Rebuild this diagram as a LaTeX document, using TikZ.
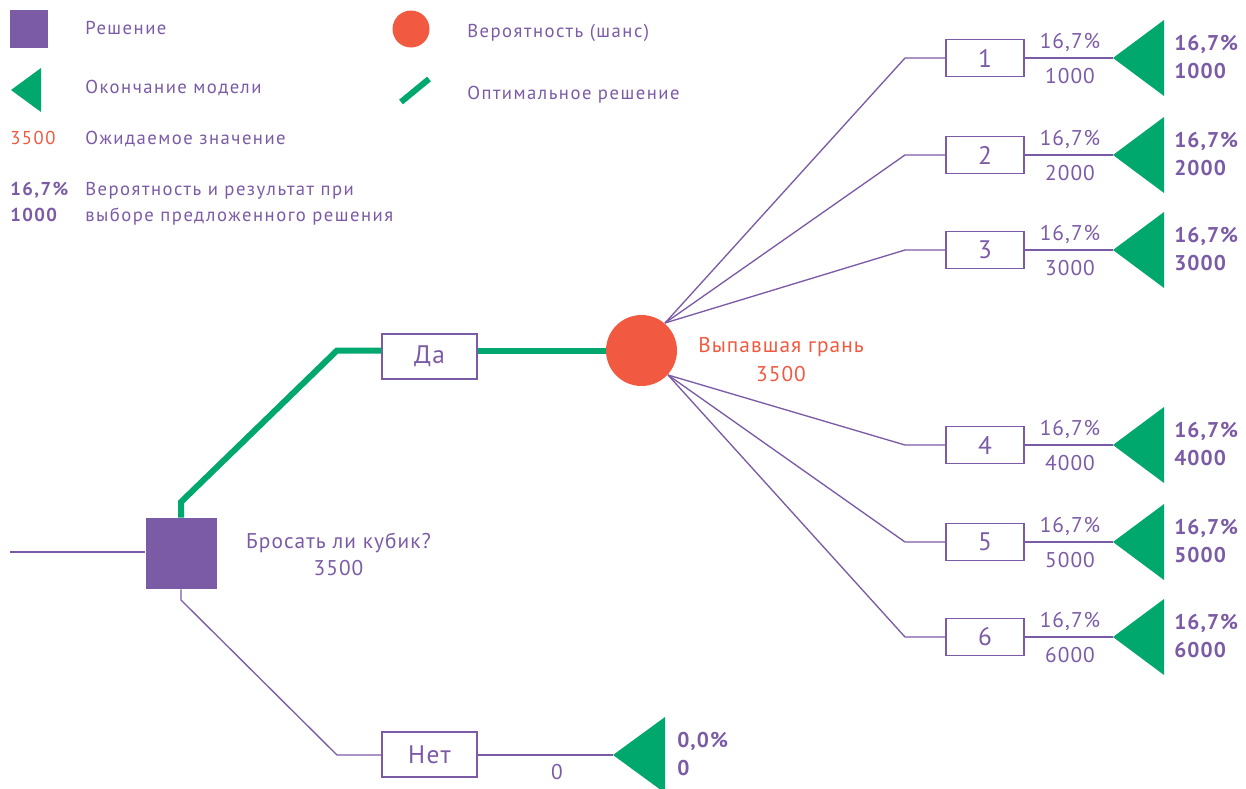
\documentclass[tikz,border=0pt]{standalone}
\usepackage{fontspec}
\setmainfont{PT Sans}
\definecolor{purp}{HTML}{7B5BA6}
\definecolor{grn}{HTML}{00A86E}
\definecolor{org}{HTML}{F15A40}
\begin{document}
\begin{tikzpicture}[x=0.75pt,y=-0.75pt,
  wire/.style={draw=purp,line width=1pt},
  optline/.style={draw=grn,line width=4.5pt},
  legtxt/.style={anchor=base west,inner sep=0pt,text=purp,font=\fontsize{14}{16}\selectfont\addfontfeature{LetterSpace=8}},
  legbold/.style={legtxt,font=\fontsize{14}{16}\selectfont\bfseries\addfontfeature{LetterSpace=8}},
  lbl/.style={anchor=base,inner sep=0pt,text=purp,font=\fontsize{16}{18}\selectfont\addfontfeature{LetterSpace=5}},
  blbl/.style={anchor=base west,inner sep=0pt,text=purp,font=\fontsize{16}{18}\selectfont\bfseries\addfontfeature{LetterSpace=5}},
  bigbox/.style={draw=purp,line width=1.1pt,fill=white,minimum width=71.25pt,minimum height=33.75pt,inner sep=0pt,text=purp,font=\fontsize{19}{21}\selectfont\addfontfeature{LetterSpace=5}},
  outbox/.style={draw=purp,line width=1.1pt,fill=white,minimum width=58.5pt,minimum height=27.75pt,inner sep=0pt,text=purp,font=\fontsize{19}{21}\selectfont},
  decsq/.style={fill=purp,inner sep=0pt},
  chancec/.style={circle,fill=org,inner sep=0pt},
  endtri/.style={fill=grn}
]
\useasboundingbox (0,0) rectangle (1246,789);

% ---------- legend ----------
\node[decsq,minimum size=28.5pt] (lsq) at (29,29) {};
\node[legtxt] (l1) at (85,34) {Решение};
\coordinate (ltri) at (11,90);
\fill[endtri] (ltri) -- ++(30,-22) -- ++(0,44) -- cycle;
\node[legtxt] (l2) at (85,93) {Окончание модели};
\node[legtxt,text=org] (l3n) at (10,144) {3500};
\node[legtxt] (l3) at (85,144) {Ожидаемое значение};
\node[legbold] (l4a) at (10,195) {16,7\%};
\node[legbold] (l4b) at (10,221) {1000};
\node[legtxt] (l4) at (85,195) {Вероятность и результат при};
\node[legtxt] (l4c) at (85,221) {выборе предложенного решения};
\node[chancec,minimum size=27.75pt] (lci) at (411,29) {};
\node[legtxt] (l5) at (467,37) {Вероятность (шанс)};
\coordinate (lo1) at (401,102);
\coordinate (lo2) at (429,79);
\draw[optline] (lo1) -- (lo2);
\node[legtxt] (l6) at (467,99) {Оптимальное решение};

% ---------- tree ----------
\coordinate (start) at (10,552);
\node[decsq,minimum size=53.25pt] (dec) at (181,553.5) {};
\node[lbl] (decl) at (338.5,548) {Бросать ли кубик?};
\node[lbl] (decv) at (338.5,575) {3500};
\draw[wire] (start) -- (dec.west |- start);

\node[bigbox] (da) at (429.5,356.5) {Да};
\node[bigbox] (net) at (429.5,754.5) {Нет};
\node[chancec,minimum size=53.25pt] (ch) at (641.5,350.5) {};
\node[lbl,text=org] (chl) at (781,352) {Выпавшая грань};
\node[lbl,text=org] (chv) at (781,381) {3500};

\coordinate (g1) at (181,502);
\coordinate (g2) at (337,350.5);
\draw[optline,line join=miter] (dec.north) -- (g1) -- (g2) -- (da.west |- g2);
\draw[optline] (da.east |- g2) -- (ch.west);

\coordinate (n1) at (181,600);
\coordinate (n2) at (337,755);
\draw[wire] (dec.south) -- (n1) -- (n2) -- (net.west |- n2);
\coordinate (tn) at (613,755);
\draw[wire] (net.east |- n2) -- (tn);
\fill[endtri] (tn) -- ++(52,-38) -- ++(0,76) -- cycle;
\node[lbl] (nv) at (557,779) {0};
\node[blbl] (np) at (677,747) {0,0\%};
\node[blbl] (nvv) at (677,775) {0};

\coordinate (up) at (665,323);
\coordinate (dn) at (668,375);

\foreach \i/\y/\v/\s in {1/58/1000/up,2/155/2000/up,3/250/3000/up,4/445/4000/dn,5/542/5000/dn,6/637/6000/dn}{
  \coordinate (e\i) at (905,\y);
  \node[outbox] (b\i) at (985,\y) {\i};
  \coordinate (t\i) at (1113,\y);
  \draw[wire] (\s) -- (e\i) -- (b\i.west);
  \draw[wire] (b\i.east) -- (t\i);
  \fill[endtri] (t\i) -- ++(51,-38) -- ++(0,76) -- cycle;
  \node[lbl] (pa\i) at (1070,\y-10) {16,7\%};
  \node[lbl] (va\i) at (1070,\y+25) {\v};
  \node[blbl] (pb\i) at (1174,\y-8) {16,7\%};
  \node[blbl] (vb\i) at (1174,\y+20) {\v};
}
\end{tikzpicture}
\end{document}
